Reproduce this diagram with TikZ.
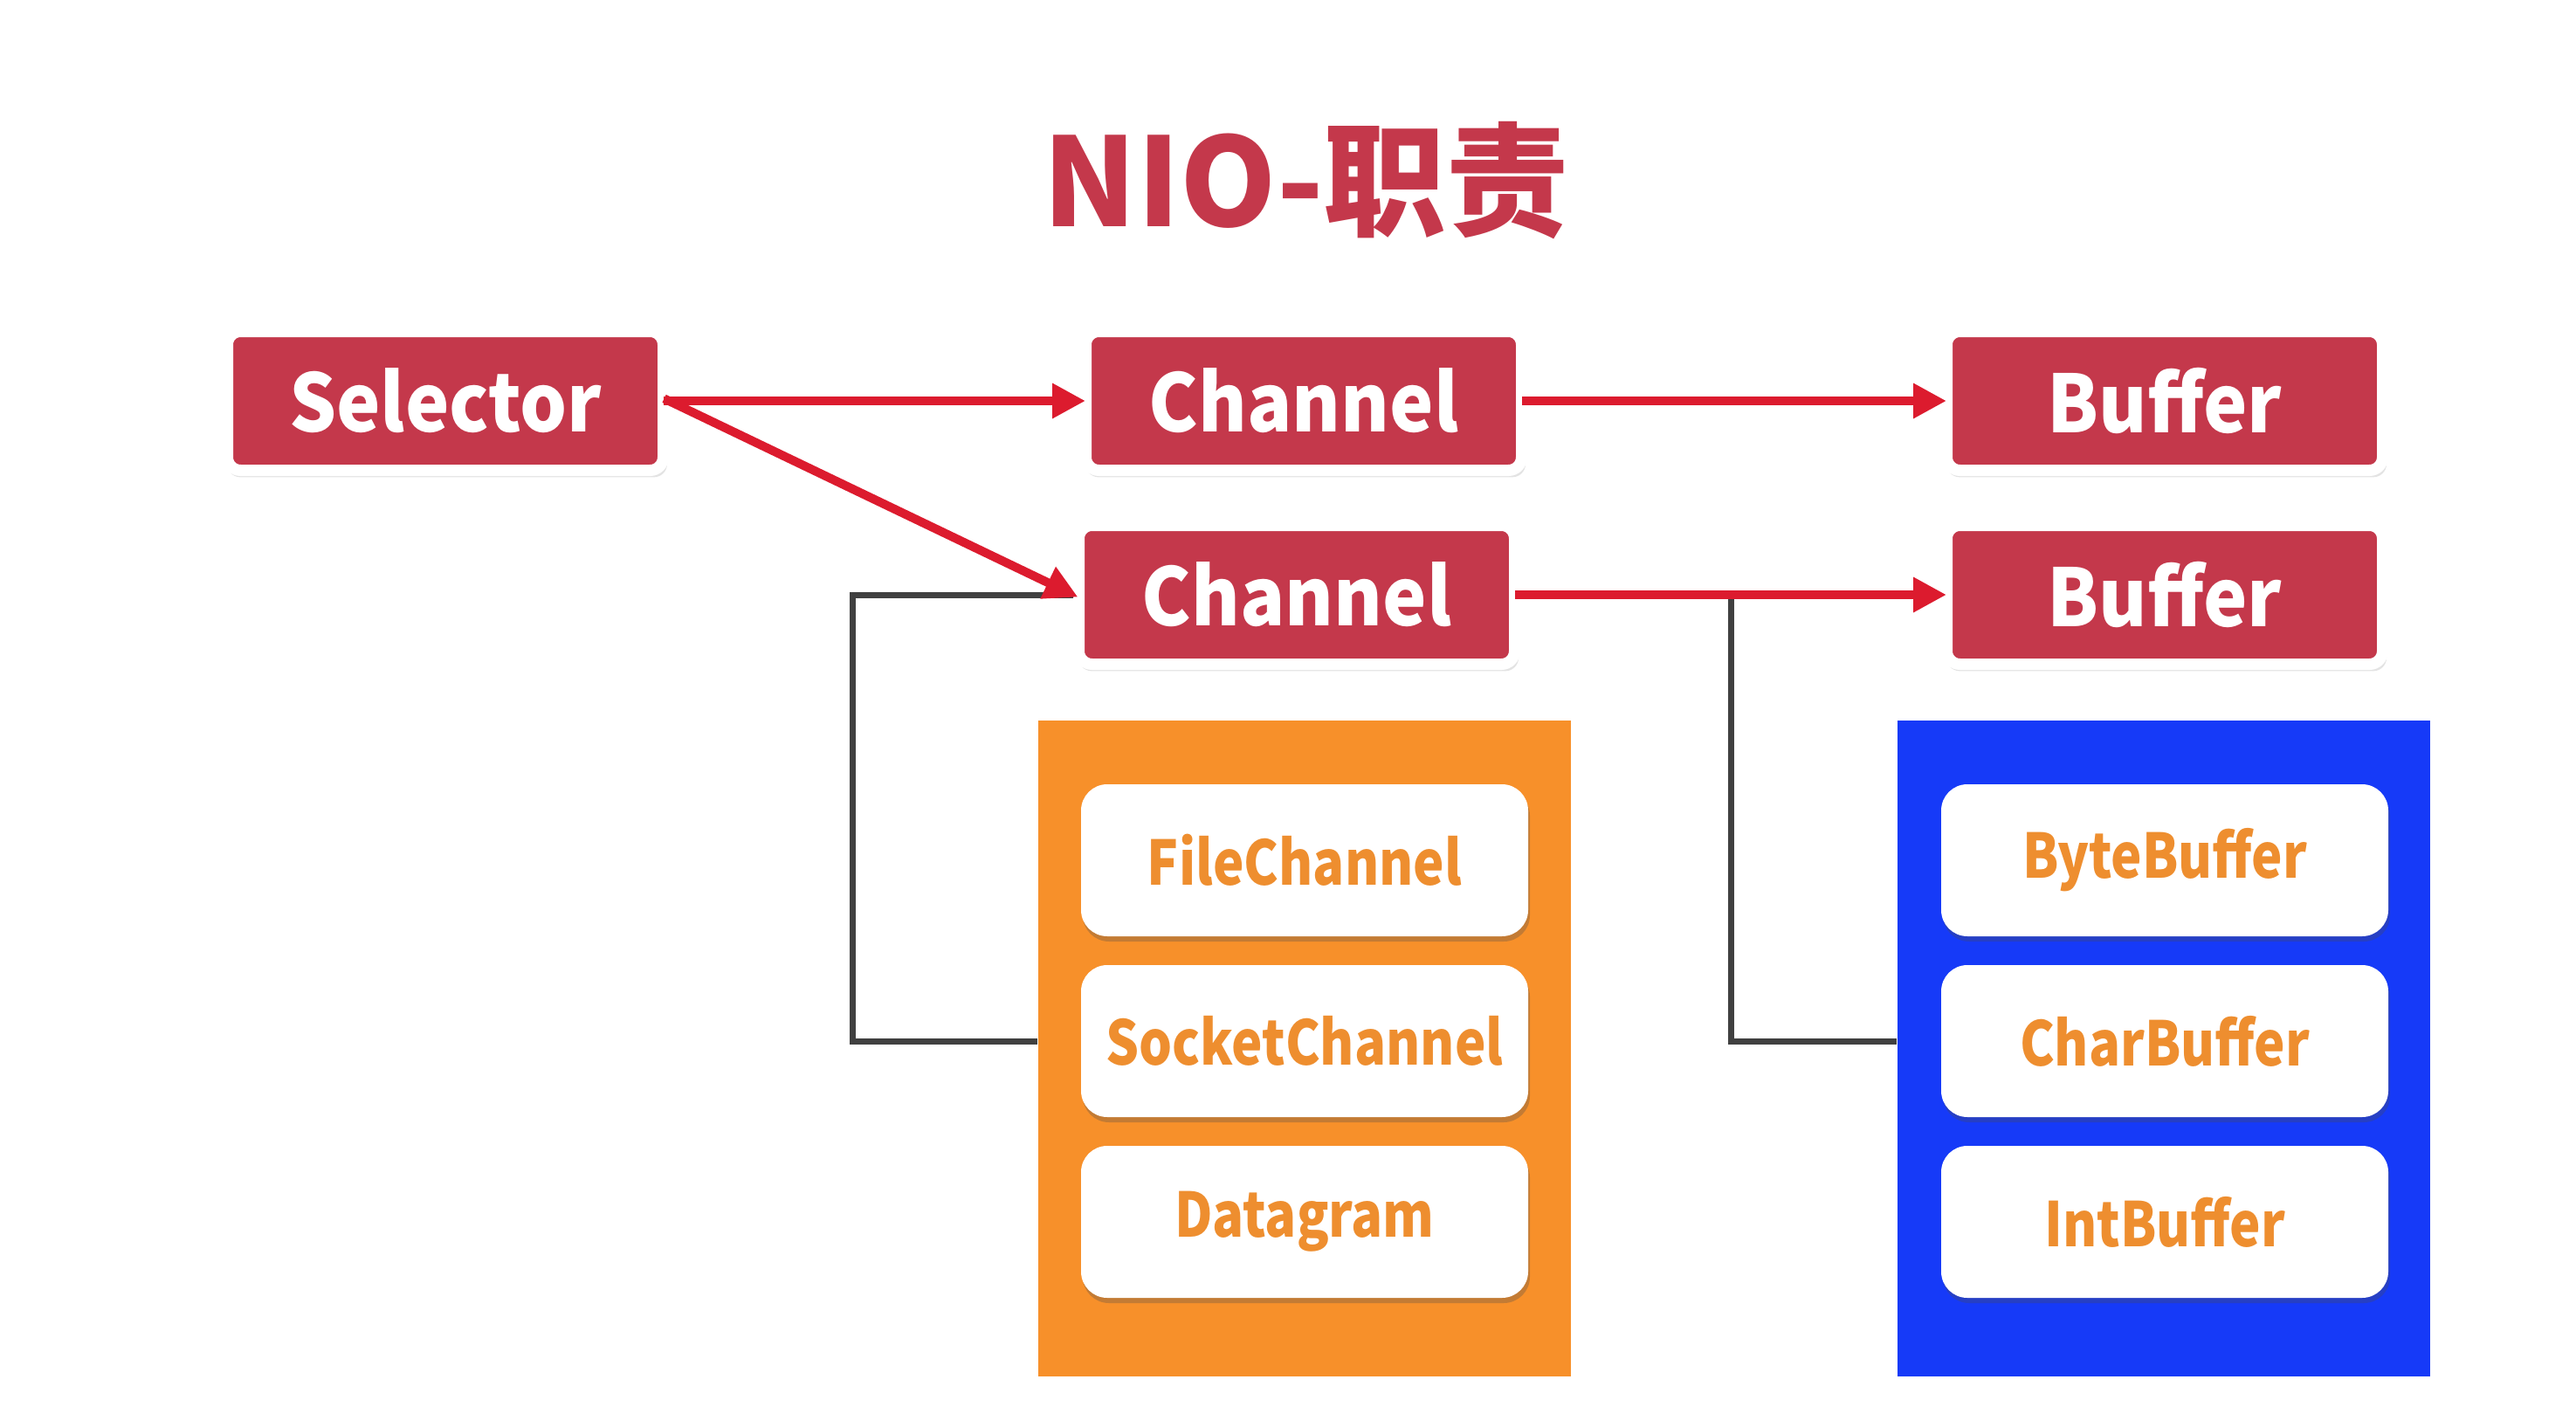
\documentclass[tikz,border=0pt]{standalone}
\usepackage{fontspec}
\setmainfont{Noto Sans CJK SC}
\newfontfamily\boxfont{Noto Sans CJK SC}[FakeStretch=0.93]
\newfontfamily\itemfont{Noto Sans CJK SC}[FakeStretch=0.85]
\usetikzlibrary{arrows.meta,shadows,calc}
\definecolor{nioRed}{HTML}{C4384B}
\definecolor{arrowRed}{HTML}{DC1B2E}
\definecolor{nioOrange}{HTML}{F7902A}
\definecolor{nioBlue}{HTML}{163AF8}
\definecolor{txtOrange}{HTML}{EE8E2F}
\definecolor{lineGray}{HTML}{404040}

\begin{document}
\begin{tikzpicture}[
    redbox/.style={fill=nioRed, draw=white, line width=0.13cm, rounded corners=0.15cm,
      minimum width=4.99cm, minimum height=1.59cm, text=white,
      font=\boxfont\fontsize{26}{30}\selectfont\bfseries,
      drop shadow={fill=black!50, opacity=0.22, shadow xshift=0.02cm, shadow yshift=-0.07cm, shadow scale=1.01}},
    panel/.style={minimum width=6.10cm, minimum height=7.51cm, inner sep=0pt},
    itembox/.style={fill=white, rounded corners=0.3cm, minimum width=5.12cm, minimum height=1.74cm,
      text=txtOrange, font=\itemfont\fontsize{20}{24}\selectfont\bfseries,
      drop shadow={fill=black!70, opacity=0.3, shadow xshift=0.02cm, shadow yshift=-0.06cm}},
    flow/.style={draw=arrowRed, line width=0.1cm, shorten >=-0.06cm, shorten <=-0.06cm,
      -{Triangle[length=0.38cm, width=0.38cm]}},
    link/.style={draw=lineGray, line width=0.07cm}
  ]
  \useasboundingbox (0,0) rectangle (29.5,-16.11);

  \node[text=nioRed, font=\fontsize{40}{46}\selectfont\bfseries] (title) at (14.96,-2.07) {NIO-职责};

  % top row
  \node[redbox] (sel) at (5.10,-4.59) {Selector};
  \node[redbox] (chan1) at (14.93,-4.59) {Channel};
  \node[redbox] (buf1) at (24.79,-4.59) {Buffer};
  % second row
  \node[redbox] (chan2) at (14.85,-6.81) {Channel};
  \node[redbox] (buf2) at (24.79,-6.81) {Buffer};

  % panels
  \node[panel, fill=nioOrange] (chanpanel) at (14.94,-12.0) {};
  \node[panel, fill=nioBlue] (bufpanel) at (24.78,-12.0) {};

  \node[itembox] (file) at (14.94,-9.85) {FileChannel};
  \node[itembox] (sock) at (14.94,-11.92) {SocketChannel};
  \node[itembox] (dgram) at (14.94,-13.99) {Datagram};

  \node[itembox] (byteb) at (24.79,-9.85) {ByteBuffer};
  \node[itembox] (charb) at (24.79,-11.92) {CharBuffer};
  \node[itembox] (intb) at (24.79,-13.99) {IntBuffer};

  % brackets
  \coordinate (mid) at ($(chan2.east)!0.5!(buf2.west)$);
  \draw[link] (chan2.west) -- (9.76,-6.81) |- (sock -| chanpanel.west);
  \draw[link] (mid) |- (charb -| bufpanel.west);

  % arrows
  \draw[flow] (sel.east) -- (chan1.west);
  \draw[flow] (sel.east) -- (chan2.west);
  \draw[flow] (chan1.east) -- (buf1.west);
  \draw[flow] (chan2.east) -- (buf2.west);
\end{tikzpicture}
\end{document}
